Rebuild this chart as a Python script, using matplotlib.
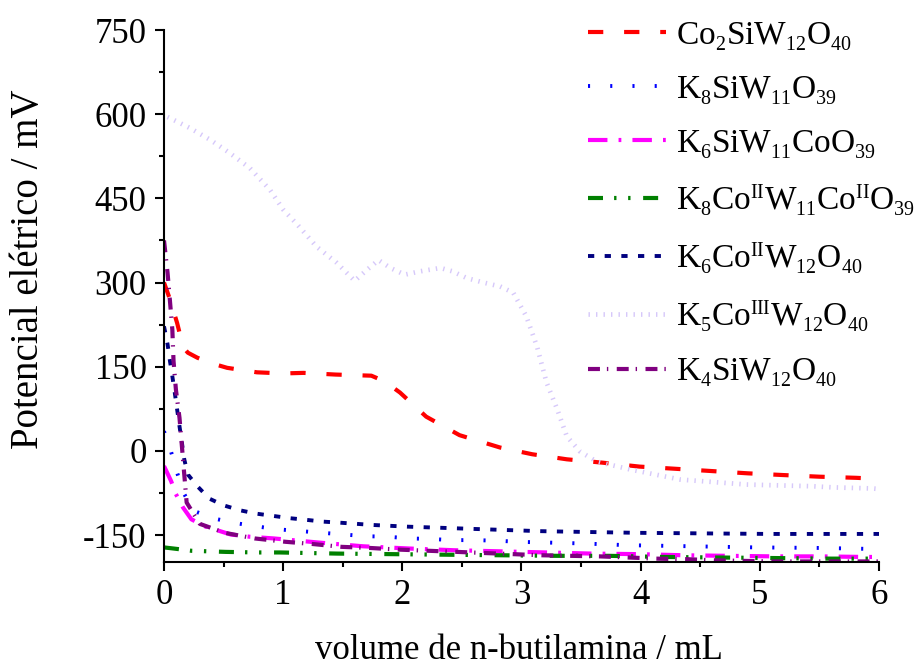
import matplotlib
matplotlib.use("Agg")
import matplotlib.pyplot as plt
from matplotlib.ticker import MultipleLocator
import matplotlib._mathtext as _mt

_mt.SHRINK_FACTOR = 0.6
if hasattr(_mt, 'FontConstantsBase'):
    _mt.FontConstantsBase.sub1 = 0.42
    _mt.FontConstantsBase.sub2 = 0.55

plt.rcParams['font.family'] = ['Liberation Serif', 'DejaVu Serif']
plt.rcParams['mathtext.fontset'] = 'custom'
plt.rcParams['mathtext.rm'] = 'Liberation Serif'
plt.rcParams['mathtext.it'] = 'Liberation Serif:italic'
plt.rcParams['mathtext.bf'] = 'Liberation Serif:bold'
plt.rcParams['lines.scale_dashes'] = False
plt.rcParams['axes.unicode_minus'] = False

# ---------------- data ----------------
labels = [
    r'Co$_2$SiW$_{12}$O$_{40}$',
    r'K$_8$SiW$_{11}$O$_{39}$',
    r'K$_6$SiW$_{11}$CoO$_{39}$',
    r'K$_8$Co$^{\mathrm{II}}$W$_{11}$Co$^{\mathrm{II}}$O$_{39}$',
    r'K$_6$Co$^{\mathrm{II}}$W$_{12}$O$_{40}$',
    r'K$_5$Co$^{\mathrm{III}}$W$_{12}$O$_{40}$',
    r'K$_4$SiW$_{12}$O$_{40}$',
]

x_co2 = [0, 0.05, 0.11, 0.16, 0.2, 0.28, 0.4, 0.53, 0.78, 1.0, 1.17, 1.44, 1.74, 1.85, 1.98, 2.2, 2.48,
         2.82, 3.09, 3.38, 3.68, 3.99, 4.3, 4.6, 4.9, 5.19, 5.5, 5.81, 6.0]
y_co2 = [300, 270, 228, 185, 175, 166, 156, 148, 140, 138, 139, 136, 134, 124, 104, 61, 28,
         6, -6, -15, -21, -28, -32, -36, -40, -43, -46, -48, -50]

x_k8si = [0, 0.06, 0.11, 0.17, 0.25, 0.43, 0.61, 0.79, 0.97, 1.15, 1.33, 1.51, 1.69, 1.88, 2.06, 2.24,
          2.42, 2.6, 2.79, 2.97, 3.15, 3.34, 3.52, 3.88, 4.43, 4.97, 5.52, 6.0]
y_k8si = [35, -2, -39, -77, -107, -121, -129, -135, -140, -143, -146, -149, -152, -153, -156, -157,
          -159, -159, -160, -162, -163, -164, -165, -168, -170, -172, -173, -175]

x_k6sico = [0, 0.06, 0.10, 0.16, 0.23, 0.35, 0.47, 0.56, 0.72, 0.92, 1.28, 1.67, 2.06, 2.43, 2.82,
            3.21, 3.59, 3.98, 4.36, 4.73, 5.13, 5.5, 5.88, 6.0]
y_k6sico = [-27, -54, -77, -101, -122, -135, -143, -149, -153, -156, -163, -170, -174, -177, -179,
            -181, -183, -184, -186, -187, -188, -188, -189, -189]

x_k8co = [0, 0.12, 0.23, 0.52, 0.79, 0.97, 1.45, 1.91, 2.37, 2.83, 3.29, 3.73, 4.19, 4.66, 5.14, 5.6, 6.0]
y_k8co = [-172, -175, -178, -180, -181, -181, -183, -184, -185, -186, -187, -187, -189, -190, -191, -192, -192]

x_k6co = [0, 0.03, 0.05, 0.07, 0.09, 0.11, 0.13, 0.15, 0.17, 0.20, 0.28, 0.38, 0.50, 0.64, 0.78, 0.92,
          1.06, 1.20, 1.33, 1.48, 1.75, 2.04, 2.32, 2.59, 2.87, 3.15, 3.41, 3.97, 4.52, 5.08, 5.64, 6.0]
y_k6co = [222, 190, 160, 133, 104, 74, 44, 15, -15, -42, -63, -85, -97, -106, -112, -116,
          -120, -123, -126, -128, -132, -135, -137, -139, -141, -143, -144, -146, -147, -148, -148, -148]

x_k5co = [0.03, 0.05, 0.22, 0.39, 0.55, 0.72, 0.89, 1.0, 1.12, 1.28, 1.45, 1.60, 1.70, 1.80, 1.90, 2.02,
          2.15, 2.32, 2.42, 2.54, 2.68, 2.82, 2.93, 3.04, 3.13, 3.21, 3.30, 3.38, 3.49, 3.63, 3.91,
          4.33, 4.89, 5.44, 5.61, 5.95, 6.0]
y_k5co = [595, 593, 575, 554, 531, 504, 465, 430, 403, 364, 335, 303, 322, 340, 326, 314,
          320, 326, 320, 308, 300, 293, 282, 240, 186, 122, 74, 26, -1, -19, -33,
          -51, -60, -63, -65, -67, -68]

x_k4si = [0, 0.03, 0.05, 0.07, 0.08, 0.10, 0.13, 0.15, 0.17, 0.19, 0.30, 0.51, 0.76, 1.02, 1.25, 1.49,
          1.73, 1.98, 2.22, 2.46, 2.69, 2.93, 3.17, 3.41, 3.66, 3.90, 4.13, 4.39, 4.62, 4.86, 5.10,
          5.35, 5.59, 5.82, 6.0]
y_k4si = [375, 317, 267, 216, 160, 109, 59, 9, -42, -92, -130, -146, -156, -162, -166, -171,
          -173, -176, -178, -180, -182, -184, -186, -187, -188, -190, -192, -193, -195, -196, -197,
          -197, -197, -197, -197]

xticks = [0, 1, 2, 3, 4, 5, 6]
yticks = [-150, 0, 150, 300, 450, 600, 750]

# ---------------- plot ----------------
fig = plt.figure(figsize=(9.2, 6.68), dpi=100)
ax = fig.add_axes([164/920, 1 - 562/668, (879-164)/920, (562-30)/668])

series = [
    (x_co2, y_co2, '#ff0000', 3.0, (0, (11, 15))),
    (x_k8si, y_k8si, '#0000ff', 2.8, (0, (1.5, 14.5))),
    (x_k6sico, y_k6sico, '#ff00ff', 3.0, (0, (14, 8, 2, 8))),
    (x_k8co, y_k8co, '#008000', 3.0, (0, (10.8, 8, 1.7, 8.4, 1.7, 9.1))),
    (x_k6co, y_k6co, '#000080', 2.8, (0, (4.5, 7.5))),
    (x_k5co, y_k5co, '#d6c8fa', 3.4, (0, (1.0, 4.4))),
    (x_k4si, y_k4si, '#800080', 3.0, (0, (8.6, 5, 1, 6.1))),
]

handles = []
for (xs, ys, c, lw, ls), lab in zip(series, labels):
    h, = ax.plot(xs, ys, color=c, lw=lw, linestyle=ls, label=lab, solid_capstyle='butt',
                 dash_capstyle='butt')
    handles.append(h)

ax.set_xlim(0, 6)
ax.set_ylim(-198, 750)
ax.set_xticks(xticks)
ax.set_yticks(yticks)
ax.xaxis.set_minor_locator(MultipleLocator(0.5))
ax.yaxis.set_minor_locator(MultipleLocator(75))

for s in ['top', 'right']:
    ax.spines[s].set_visible(False)
for s in ['left', 'bottom']:
    ax.spines[s].set_linewidth(1.5)

ax.tick_params(which='major', direction='out', length=6.5, width=1.5, labelsize=25, pad=6)
ax.tick_params(which='minor', direction='out', length=3.8, width=1.5)

ax.set_xlabel('volume de n-butilamina / mL', fontsize=25)
ax.set_ylabel('Potencial elétrico / mV', fontsize=28)
ax.xaxis.set_label_coords(0.497, -0.136)
ax.yaxis.set_label_coords(-0.163, 0.55)

leg = fig.legend(handles=handles, labels=labels, loc='upper left',
                 bbox_to_anchor=(588/920, 1 - 20/668), frameon=False,
                 fontsize=24, handlelength=2.35, handletextpad=0.28,
                 labelspacing=0.64, borderpad=0, borderaxespad=0)

fig.savefig('out.png', dpi=100)
